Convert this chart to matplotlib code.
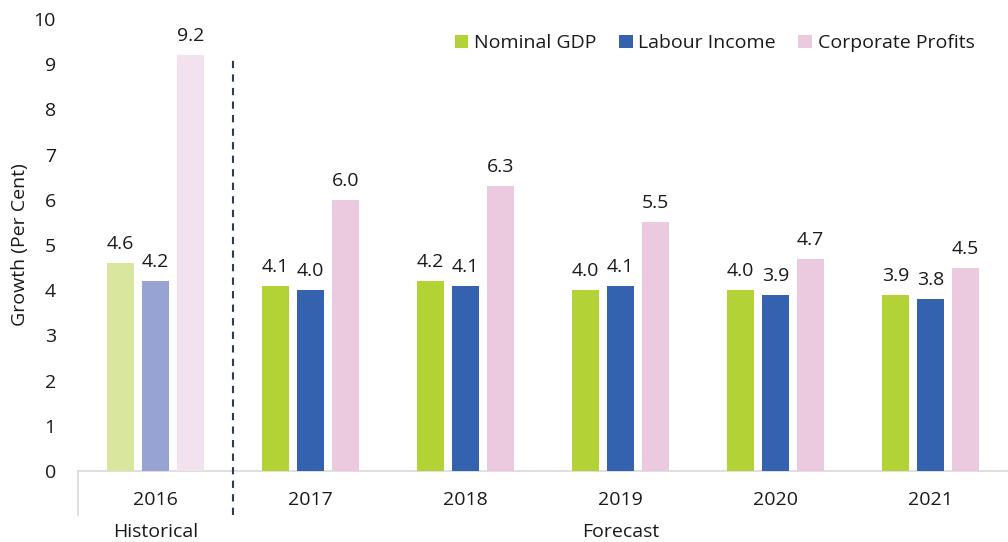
import matplotlib
matplotlib.use("Agg")
import matplotlib.pyplot as plt
import numpy as np
from matplotlib.patches import Patch

plt.rcParams['font.family'] = ['Open Sans', 'DejaVu Sans']

years = ["2016", "2017", "2018", "2019", "2020", "2021"]
series_names = ["Nominal GDP", "Labour Income", "Corporate Profits"]
nominal_gdp = [4.6, 4.1, 4.2, 4.0, 4.0, 3.9]
labour_income = [4.2, 4.0, 4.1, 4.1, 3.9, 3.8]
corporate_profits = [9.2, 6.0, 6.3, 5.5, 4.7, 4.5]
period_labels = ["Historical", "Forecast"]
yticks = [0, 1, 2, 3, 4, 5, 6, 7, 8, 9, 10]

colors = ["#B3D235", "#3462AE", "#EBCAE0"]
hist_colors = ["#D9E69E", "#97A3D3", "#F2E1EF"]
FS = 14
TC = '#1A1A1A'

fig = plt.figure(figsize=(10.08, 5.42), dpi=100)
ax = fig.add_axes([78/1008, 1-471/542, 1-78/1008, (471-19)/542])

x = np.arange(len(years))
width = 0.178
offset = 0.226
all_series = [nominal_gdp, labour_income, corporate_profits]
for i, vals in enumerate(all_series):
    cols = [hist_colors[i]] + [colors[i]] * (len(years) - 1)
    pos = x + (i - 1) * offset
    ax.bar(pos, vals, width=width, color=cols, zorder=3)
    for p, v in zip(pos, vals):
        ax.text(p, v + 0.22, f"{v:.1f}", ha='center', va='bottom', fontsize=FS, color=TC)

ax.set_xlim(-0.5, len(years) - 0.5)
ax.set_ylim(0, 10)
ax.set_yticks(yticks)
ax.set_yticklabels([str(t) for t in yticks], fontsize=FS, color=TC)
ax.tick_params(axis='y', length=0, pad=16)
ax.set_xticks([])
for s in ['left', 'right', 'top']:
    ax.spines[s].set_visible(False)
ax.spines['bottom'].set_color('#D9D9D9')
ax.spines['bottom'].set_linewidth(1.2)
ax.set_ylabel("Growth (Per Cent)", fontsize=FS, color=TC, labelpad=3)

trans = ax.get_xaxis_transform()
for xi, yr in zip(x, years):
    ax.text(xi, -29/452, yr, transform=trans, ha='center', va='center', fontsize=FS, color=TC)
ax.text(0, -61/452, period_labels[0], transform=trans, ha='center', va='center', fontsize=FS, color=TC)
ax.text((0.5 + len(years) - 0.5) / 2, -61/452, period_labels[1], transform=trans, ha='center', va='center', fontsize=FS, color=TC)

ax.plot([-0.5, -0.5], [0, -44/452], transform=trans, color='#D9D9D9', lw=1.2, clip_on=False)
ax.plot([0.5, 0.5], [-44/452, (471-58)/452], transform=trans, color='#2F3C55', lw=1.5,
        linestyle=(0, (3.5, 3)), clip_on=False, zorder=4)

handles = [Patch(facecolor=c) for c in colors]
leg = ax.legend(handles, series_names, loc='upper right', bbox_to_anchor=(0.983, 1.005), ncol=3,
                frameon=False, fontsize=FS, handlelength=0.7, handleheight=0.7,
                handletextpad=0.3, columnspacing=1.15)
for t in leg.get_texts():
    t.set_color(TC)

fig.savefig("out.png", dpi=100)
